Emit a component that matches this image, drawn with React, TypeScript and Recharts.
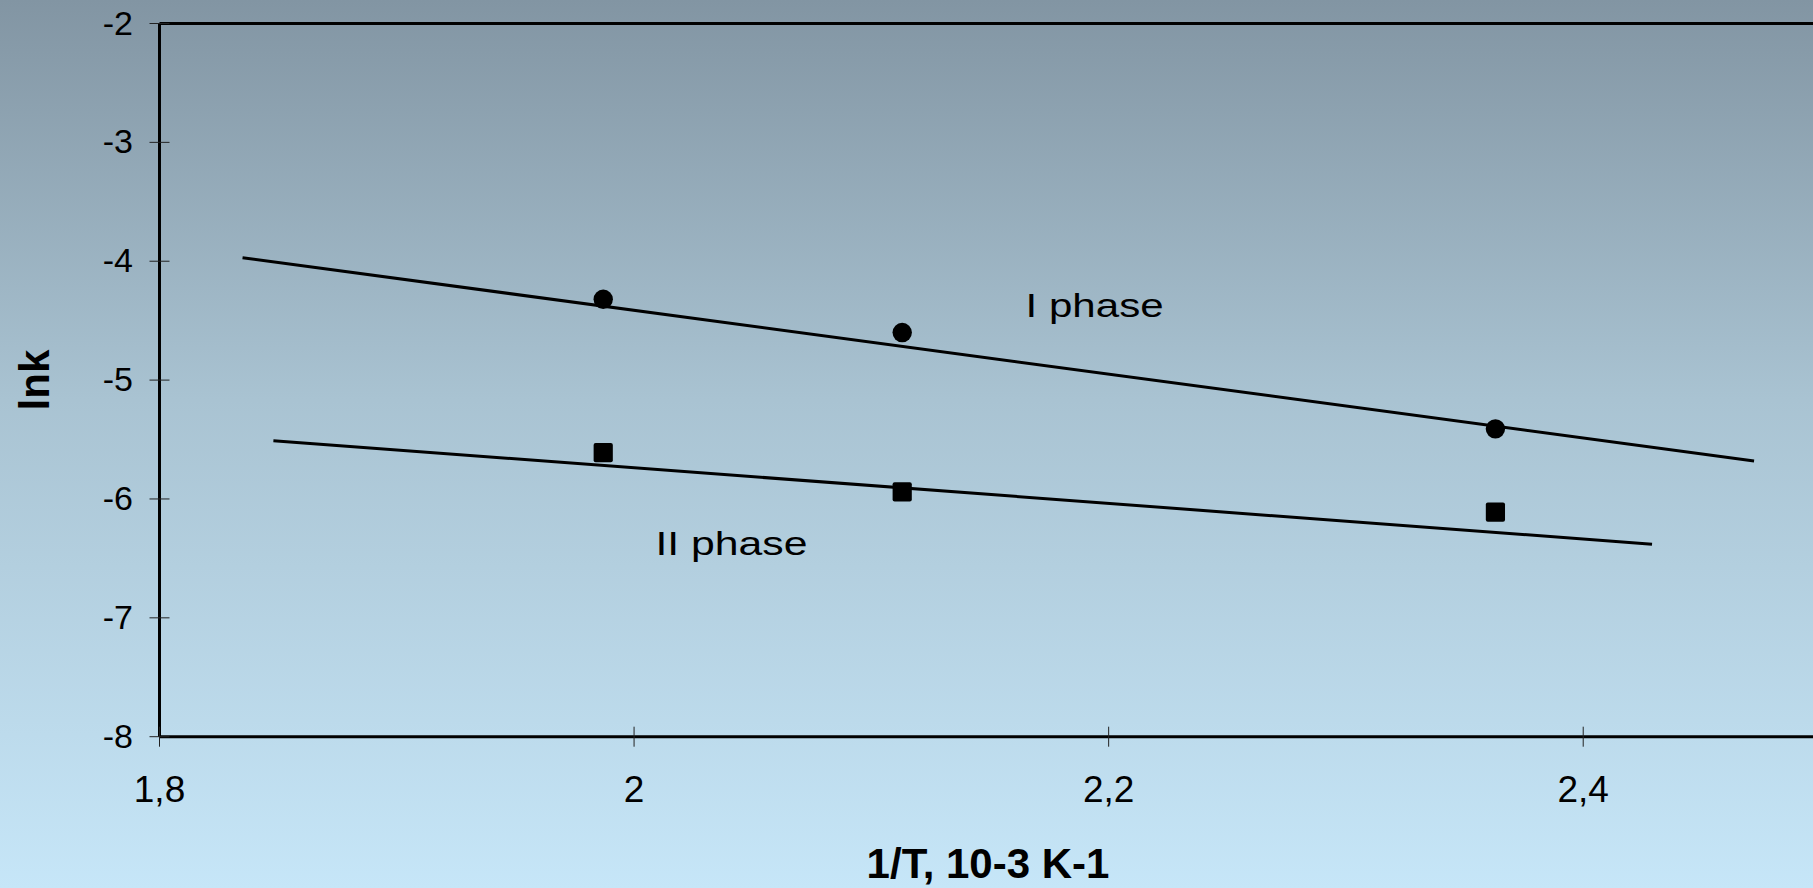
import React from 'react';
import { ComposedChart, Line, Scatter, XAxis, YAxis, ReferenceLine } from 'recharts';

const xTicks = [1.8, 2, 2.2, 2.4];
const yTicks = [-8, -7, -6, -5, -4, -3, -2];

// 1/T of the three runs, 10-3 K-1
const invT = [1.987, 2.113, 2.363];
const phaseOne = [-4.32, -4.6, -5.41];
const phaseTwo = [-5.61, -5.94, -6.11];

const trendOneX = [1.835, 2.472];
const trendOneY = [-3.97, -5.68];
const trendTwoX = [1.848, 2.429];
const trendTwoY = [-5.51, -6.38];

const phaseLabels = ['I phase', 'II phase'];
const labelX = [2.165, 2.009];
const labelY = [-4.467, -6.47];

const FONT = '"Liberation Sans", Arial, Helvetica, sans-serif';

const toPoints = (xs: number[], ys: number[]) => xs.map((x, i) => ({ x, y: ys[i] }));

const pointsOne = toPoints(invT, phaseOne);
const pointsTwo = toPoints(invT, phaseTwo);
const trendOne = toPoints(trendOneX, trendOneY);
const trendTwo = toPoints(trendTwoX, trendTwoY);
const labelPoints = labelX.map((x, i) => ({ x, y: labelY[i], label: phaseLabels[i] }));

const fmt = (v: number) => String(v).replace('.', ',');

const YTick = (props: any) => {
  const { x, y, payload } = props;
  return (
    <g>
      <line x1={x + 16.5} x2={x + 36.5} y1={y} y2={y} stroke="#222" strokeWidth={1} />
      <text x={x} y={y} dy={11} textAnchor="end" fontSize={34} fontFamily={FONT} fill="#000">
        {fmt(payload.value)}
      </text>
    </g>
  );
};

const XTick = (props: any) => {
  const { x, y, payload } = props;
  return (
    <g>
      <line x1={x} x2={x} y1={y - 20} y2={y} stroke="#222" strokeWidth={1} />
      <text x={x} y={y + 55} textAnchor="middle" fontSize={37} fontFamily={FONT} fill="#000">
        {fmt(payload.value)}
      </text>
    </g>
  );
};

const Dot = (props: any) => <circle cx={props.cx} cy={props.cy} r={9.7} fill="#000" />;

const Square = (props: any) => (
  <rect x={props.cx - 9.6} y={props.cy - 9.6} width={19.2} height={19.2} rx={2} fill="#000" />
);

const PhaseText = (props: any) => {
  const label = props.payload.label;
  // the labels in the original are stretched sideways
  const len = label === 'I phase' ? 138 : 152;
  return (
    <text
      x={props.cx}
      y={props.cy}
      fontSize={33}
      fontFamily={FONT}
      fill="#000"
      textLength={len}
      lengthAdjust="spacingAndGlyphs"
    >
      {label}
    </text>
  );
};

const XTitle = (props: any) => {
  const { viewBox } = props;
  return (
    <text
      x={viewBox.x + viewBox.width / 2 - 2}
      y={viewBox.y + 141.3}
      textAnchor="middle"
      fontSize={42}
      fontWeight="bold"
      fontFamily={FONT}
      fill="#000"
    >
      1/T, 10-3 K-1
    </text>
  );
};

const YTitle = (props: any) => {
  const { viewBox } = props;
  const cy = viewBox.y + viewBox.height / 2;
  return (
    <text
      x={49}
      y={cy}
      transform={`rotate(-90, 49, ${cy})`}
      textAnchor="middle"
      fontSize={42}
      fontWeight="bold"
      fontFamily={FONT}
      fill="#000"
    >
      lnk
    </text>
  );
};

export default function App() {
  return (
    <div
      style={{
        position: 'fixed',
        left: 0,
        top: 0,
        width: 1813,
        height: 888,
        overflow: 'hidden',
        background: 'linear-gradient(to bottom, #8295a3 0%, #a9c3d2 45%, #c6e6f8 100%)',
      }}
    >
      <ComposedChart
        width={1820.5}
        height={888}
        margin={{ top: 23.5, right: 0, bottom: 91.3, left: 0 }}
      >
        <XAxis
          type="number"
          dataKey="x"
          domain={[1.8, 2.5]}
          ticks={xTicks}
          interval={0}
          height={60}
          tickSize={10}
          tickMargin={0}
          tickLine={false}
          tick={<XTick />}
          axisLine={{ stroke: '#000', strokeWidth: 3 }}
          label={{ value: '1/T, 10-3 K-1', content: (p: any) => <XTitle {...p} /> }}
        />
        <YAxis
          type="number"
          dataKey="y"
          domain={[-8, -2]}
          ticks={yTicks}
          interval={0}
          width={159.5}
          tickSize={10}
          tickMargin={16.5}
          tickLine={false}
          tick={<YTick />}
          axisLine={{ stroke: '#000', strokeWidth: 3 }}
          label={{ value: 'lnk', content: (p: any) => <YTitle {...p} /> }}
        />
        <ReferenceLine y={-2} stroke="#000" strokeWidth={3} />
        <Line
          data={trendOne}
          dataKey="y"
          stroke="#000"
          strokeWidth={3}
          dot={false}
          activeDot={false}
          isAnimationActive={false}
        />
        <Line
          data={trendTwo}
          dataKey="y"
          stroke="#000"
          strokeWidth={3}
          dot={false}
          activeDot={false}
          isAnimationActive={false}
        />
        <Scatter data={pointsOne} dataKey="y" shape={Dot} isAnimationActive={false} />
        <Scatter data={pointsTwo} dataKey="y" shape={Square} isAnimationActive={false} />
        <Scatter data={labelPoints} dataKey="y" shape={PhaseText} isAnimationActive={false} />
      </ComposedChart>
    </div>
  );
}
